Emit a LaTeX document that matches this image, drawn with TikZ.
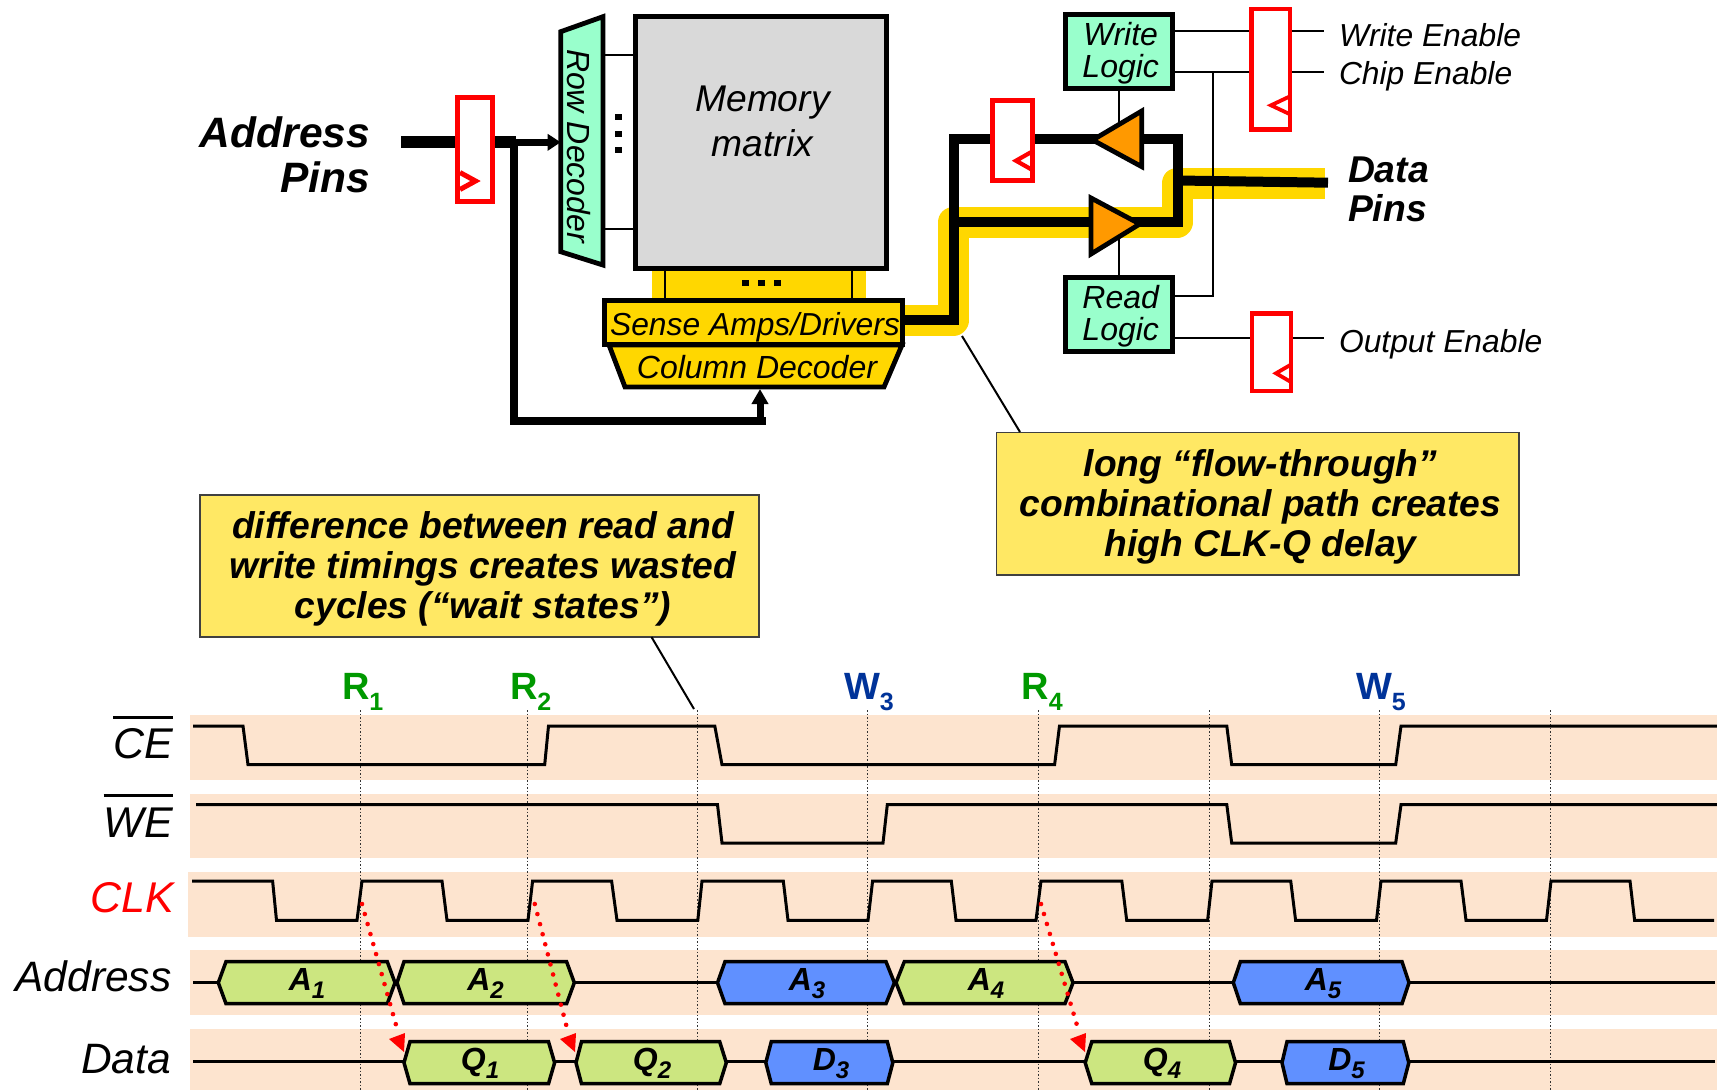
\documentclass[tikz,border=0pt]{standalone}
\usepackage{fontspec}
\setmainfont{Liberation Sans}
\usetikzlibrary{arrows.meta,calc}
\definecolor{gold}{HTML}{FFD700}
\definecolor{mint}{HTML}{99FFCC}
\definecolor{matrixgray}{HTML}{D9D9D9}
\definecolor{callout}{HTML}{FFE864}
\definecolor{band}{HTML}{FDE4CF}
\definecolor{tri}{HTML}{FF9900}
\definecolor{busgreen}{HTML}{CCE680}
\definecolor{busblue}{HTML}{6090FF}
\definecolor{rcol}{HTML}{009900}
\definecolor{wcol}{HTML}{003399}
\newcommand\fs[2]{\fontsize{#1}{#2}\selectfont}
\newcommand\lowsub[1]{\raisebox{-8pt}{\fs{24}{24}#1}}
\newcommand\lowsubb[1]{\raisebox{-11pt}{\fs{25}{25}#1}}
% name, fill, x1,x2,x3,x4, ycentre, labelx, label
\newcommand\busbox[9]{%
  \draw[busline,fill=#2] (#3,#7) -- (#4,#7-21) -- (#5,#7-21) -- (#6,#7) -- (#5,#7+21) -- (#4,#7+21) -- cycle;
  \node[buslabel] (#1) at (#8,#7+1) {#9};
}
\newcommand\clockmark[4]{\draw[red,line width=#4,line join=miter] (#1,#2-8.5) -- (#3,#2) -- (#1,#2+8.5);}
\tikzset{
  x=1pt,y=-1pt,
  every node/.style={inner sep=0pt,outer sep=0pt},
  blockbox/.style={draw=black,line width=5pt,text=black,anchor=center,font=\itshape\fs{32}{32},align=center},
  blocktext/.style={font=\itshape\fs{32}{32},align=center},
  regbox/.style={draw=red,fill=white,line width=5pt},
  thin wire/.style={line width=2.3pt},
  bus/.style={line width=10pt,line join=miter},
  hilite/.style={gold,line width=31pt,line join=round},
  tribuf/.style={draw=black,fill=tri,line width=4.8pt,line join=miter},
  calloutbox/.style={draw=black!75,fill=callout,line width=1.6pt},
  callouttext/.style={font=\bfseries\itshape\fs{37.2}{40},align=center},
  leader/.style={line width=2pt},
  bandfill/.style={fill=band,draw=none},
  tickline/.style={black!80,line width=1pt,dash pattern=on 1.5pt off 2pt},
  wave/.style={line width=3pt,line join=miter},
  busline/.style={draw=black,line width=3.5pt,line join=miter},
  buslabel/.style={font=\bfseries\itshape\fs{32}{32}},
  sigiline/.style={font=\itshape\fs{43}{43},anchor=east},
  sigtext/.style={font=\itshape\fs{31.8}{32},anchor=west},
  cyclelabel/.style={font=\bfseries\fs{38}{38},anchor=base west},
  redarrow/.style={red,line width=4.6pt,line cap=round,dash pattern=on 0pt off 10.4pt},
  redhead/.style={fill=red,draw=none},
}
\begin{document}
\begin{tikzpicture}
\useasboundingbox[fill=white] (0,0) rectangle (1717,1090);

% ---- highlighted flow-through path
\fill[gold] (652,268) rectangle (866,300);
\draw[hilite] (905,320) -- (953.5,320) -- (953.5,222) -- (1177,222) -- (1177,183) -- (1325,183);

% ---- memory blocks
\node[blockbox,fill=matrixgray,minimum width=251pt,minimum height=251.5pt] (mm) at (760.5,142.5) {};
\node[font=\itshape\fs{37.2}{45},align=center] (mmtext) at (762.5,121) {Memory\\matrix};
\coordinate (rdnw) at (560.7,31.7);
\coordinate (rdne) at (602.9,16.7);
\coordinate (rdse) at (602.9,265);
\coordinate (rdsw) at (560.7,251.7);
\draw[line width=4.8pt,fill=mint,line join=miter] (rdnw) -- (rdne) -- (rdse) -- (rdsw) -- cycle;
\node[rotate=-90,font=\itshape\fs{32}{32}] (rd) at (579,146) {Row Decoder};
\draw[thin wire] (rdne |- 0,55) -- (mm.west |- 0,55);
\draw[thin wire] (rdne |- 0,229) -- (mm.west |- 0,229);
\foreach \yy in {117.3,133.7,150}
  \fill (614.5,\yy-3) rectangle (621.5,\yy+3);
\node[blockbox,fill=gold,minimum width=297.4pt,minimum height=43.6pt] (sa) at (753.3,322.5) {};
\node[font=\itshape\fs{31.8}{32}] (satext) at (755,327) {Sense Amps/Drivers};
\draw[thin wire] (665,268) -- (665,268 |- sa.north);
\draw[thin wire] (852,268) -- (852,268 |- sa.north);
\foreach \xx in {745,761,777.5}
  \fill (\xx-3.5,280.3) rectangle (\xx+3.5,286.3);
\coordinate (cdnw) at (609,345);
\coordinate (cdne) at (902,345);
\coordinate (cdse) at (884,387);
\coordinate (cdsw) at (625,387);
\draw[line width=4.8pt,fill=gold,line join=miter] (cdnw) -- (cdne) -- (cdse) -- (cdsw) -- cycle;
\node[font=\itshape\fs{32}{32}] (cd) at (757,367) {Column Decoder};

% ---- address path
\coordinate (addrfree) at (401,142.3);
\coordinate (addrjoin) at (516,142.3);
\coordinate (addrturn) at (513.6,421);
\coordinate (cdfoot) at (760,421);
\draw[line width=12pt] (addrfree) -- (addrjoin);
\draw[line width=6.5pt,-{Triangle[length=13pt,width=16pt]}] (addrjoin) -- (rdnw |- addrjoin);
\draw[line width=8pt,line join=miter] (513.6,142) -- (addrturn) -- (766,421);
\draw[line width=7pt,-{Triangle[length=15pt,width=16pt]}] (cdfoot) -- (760,389);
\node[regbox,minimum width=35pt,minimum height=103.7pt] (rega) at (474.5,149.2) {};
\clockmark{460}{181}{475.5}{5pt}

% ---- data path
\draw[bus] (sa.east |- 0,320) -- (958.5,320);
\draw[bus] (953.5,325) -- (953.5,139.3) -- (1178,139.3) -- (1178,222) -- (953.5,222);
\draw[bus] (1178,180.5) -- (1328,182.7);
\node[regbox,minimum width=40pt,minimum height=80pt] (regm) at (1012,140) {};
\clockmark{1031}{160.7}{1016}{4.2pt}
\coordinate (tut) at (1141.8,111);
\coordinate (tub) at (1141.8,166.7);
\coordinate (tup) at (1092.7,140);
\coordinate (tdt) at (1091,198);
\coordinate (tdb) at (1091,254);
\coordinate (tdp) at (1139.8,224);

% ---- control logic
\node[blockbox,fill=mint,minimum width=106.6pt,minimum height=74.4pt] (wl) at (1118.7,51.5) {};
\node[blocktext] (wltext) at (1120.7,53.7) {Write\\Logic};
\node[blockbox,fill=mint,minimum width=106.6pt,minimum height=74pt] (rl) at (1118.7,314.3) {};
\node[blocktext] (rltext) at (1120.7,316.5) {Read\\Logic};
\draw[thin wire] (wl.south) -- (1118.7,128);
\draw[thin wire] (rl.north) -- (1118.7,232);
\draw[tribuf] (tut) -- (tub) -- (tup) -- cycle;
\draw[tribuf] (tdt) -- (tdb) -- (tdp) -- cycle;

\coordinate (we) at (1324,31.3);
\coordinate (ce) at (1324,72);
\coordinate (oe) at (1324,338.3);
\draw[thin wire] (wl.east |- we) -- (we);
\draw[thin wire] (wl.east |- ce) -- (ce);
\draw[thin wire] (rl.east |- oe) -- (oe);
\draw[thin wire,line join=miter] (1213,72) -- (1213,296) -- (rl.east |- 0,296);
\node[regbox,line width=4.4pt,minimum width=38.6pt,minimum height=120.3pt] (regw) at (1270.7,69.2) {};
\clockmark{1289}{105.3}{1271}{3.8pt}
\node[regbox,line width=4.4pt,minimum width=39pt,minimum height=77.3pt] (rego) at (1271.5,352.3) {};
\clockmark{1290.6}{373.3}{1276}{3.8pt}

\node[sigtext] (wetext) at (1339,35) {Write Enable};
\node[sigtext] (cetext) at (1339,76.3) {Chip Enable};
\node[sigtext] (oetext) at (1339,344) {Output Enable};
\node[font=\bfseries\itshape\fs{42.5}{45},align=right,anchor=east] (apins) at (370,155) {Address\\Pins};
\node[font=\bfseries\itshape\fs{37.3}{39},align=left,anchor=west] (dpins) at (1348,189) {Data\\Pins};

% ---- callouts
\node[calloutbox,minimum width=522.5pt,minimum height=142.5pt] (calla) at (1257.8,503.8) {};
\node[callouttext] (callatext) at (1260.5,507) {long “flow-through”\\combinational path creates\\high CLK-Q delay};
\node[calloutbox,minimum width=559pt,minimum height=142pt] (callb) at (479.5,566) {};
\node[callouttext] (callbtext) at (483,569.3) {difference between read and\\write timings creates wasted\\cycles (“wait states”)};
\coordinate (leadera) at (962,336);
\coordinate (leaderb) at (694,709);
\draw[leader] (leadera) -- (1020,432);
\draw[leader] (651.5,637) -- (leaderb);

% ---- timing bands
\fill[bandfill] (190,715) rectangle (1717,780);
\fill[bandfill] (190,794) rectangle (1717,858);
\fill[bandfill] (188,872) rectangle (1717,937);
\fill[bandfill] (190,950) rectangle (1717,1015);
\fill[bandfill] (190,1029) rectangle (1717,1090);
\foreach \xx in {360.4,527.7,697.8,867.7,1038,1209,1379,1550}
  \draw[tickline] (\xx,710) -- (\xx,1090);

% ---- waveforms
\draw[wave] (193,726) -- (243,726) -- (248,764.7) -- (544.7,764.7) -- (548.5,726) -- (714.8,726) -- (722,764.7) -- (1054.6,764.7) -- (1059.5,726) -- (1226.8,726) -- (1231.7,764.7) -- (1395.7,764.7) -- (1401,726) -- (1717,726);
\draw[wave] (196,804.7) -- (717.5,804.7) -- (722,843) -- (883,843) -- (887.3,804.7) -- (1226.8,804.7) -- (1231.7,843) -- (1395.7,843) -- (1401,804.7) -- (1717,804.7);
\draw[wave] (192,881) -- (272.6,881) -- (276.5,920.3) -- (357,920.3) -- (362,881) -- (442,881) -- (447,920.3) -- (528,920.3) -- (532.6,881) -- (611.6,881) -- (617,920.3) -- (697.8,920.3) -- (702,881) -- (783.3,881) -- (788,920.3) -- (868,920.3) -- (872.6,881) -- (951.3,881) -- (956,920.3) -- (1036,920.3) -- (1041,881) -- (1121.8,881) -- (1126.7,920.3) -- (1207.6,920.3) -- (1212,881) -- (1290.7,881) -- (1295.6,920.3) -- (1376.5,920.3) -- (1381,881) -- (1461,881) -- (1466,920.3) -- (1546.5,920.3) -- (1551,881) -- (1630,881) -- (1634.6,920.3) -- (1714,920.3);
\draw[wave] (193,982.7) -- (1715,982.7);
\draw[wave] (193,1061.7) -- (1715,1061.7);

\busbox{ba}{busgreen}{218.3}{226}{387.3}{395}{982.7}{307}{A\lowsub{1}}
\busbox{bb}{busgreen}{397}{404}{566.6}{574.3}{982.7}{485.5}{A\lowsub{2}}
\busbox{bc}{busblue}{717.5}{725}{886}{894.4}{982.7}{807}{A\lowsub{3}}
\busbox{bd}{busgreen}{896}{904.3}{1065}{1073}{982.7}{986}{A\lowsub{4}}
\busbox{be}{busblue}{1233.3}{1240.4}{1402}{1409}{982.7}{1323}{A\lowsub{5}}
\busbox{qa}{busgreen}{404}{410}{548.5}{554.6}{1062.7}{480}{Q\lowsub{1}}
\busbox{qb}{busgreen}{576}{581.5}{719.7}{726.3}{1062.7}{652}{Q\lowsub{2}}
\busbox{dc}{busblue}{765.8}{771.3}{887.3}{892.8}{1062.7}{831}{D\lowsub{3}}
\busbox{qd}{busgreen}{1085.2}{1091.8}{1229.5}{1235.5}{1062.7}{1162}{Q\lowsub{4}}
\busbox{de}{busblue}{1282}{1287}{1403.3}{1408.8}{1062.7}{1346.5}{D\lowsub{5}}

% ---- red CLK-Q arrows
\draw[redarrow] (362,904) -- (398,1032);
\fill[redhead] (389,1039) -- (405,1033) -- (404,1052) -- cycle;
\draw[redarrow] (534.8,904) -- (568,1032);
\fill[redhead] (560,1039) -- (576,1033) -- (575,1052) -- cycle;
\draw[redarrow] (1041,904) -- (1079,1032);
\fill[redhead] (1070,1039) -- (1086,1033) -- (1085,1052) -- cycle;

% ---- signal labels
\node[sigiline] (lce) at (173,744) {CE};
\node[sigiline] (lwe) at (173,823) {WE};
\node[sigiline,text=red] (lclk) at (174,898) {CLK};
\node[sigiline,font=\itshape\fs{42.5}{43}] (laddr) at (171.5,976) {Address};
\node[sigiline,font=\itshape\fs{42.5}{43}] (ldata) at (171,1059) {Data};
\draw[line width=3pt] (lce.west |- 0,717) -- (lce.east |- 0,717);
\draw[line width=3pt] (lwe.west |- 0,795.7) -- (lwe.east |- 0,795.7);

\node[cyclelabel,text=rcol] (ra) at (342,699) {R\lowsubb{1}};
\node[cyclelabel,text=rcol] (rb) at (510,699) {R\lowsubb{2}};
\node[cyclelabel,text=wcol] (wc) at (844,699) {W\lowsubb{3}};
\node[cyclelabel,text=rcol] (rd4) at (1021.5,699) {R\lowsubb{4}};
\node[cyclelabel,text=wcol] (we5) at (1356,699) {W\lowsubb{5}};
\end{tikzpicture}
\end{document}
